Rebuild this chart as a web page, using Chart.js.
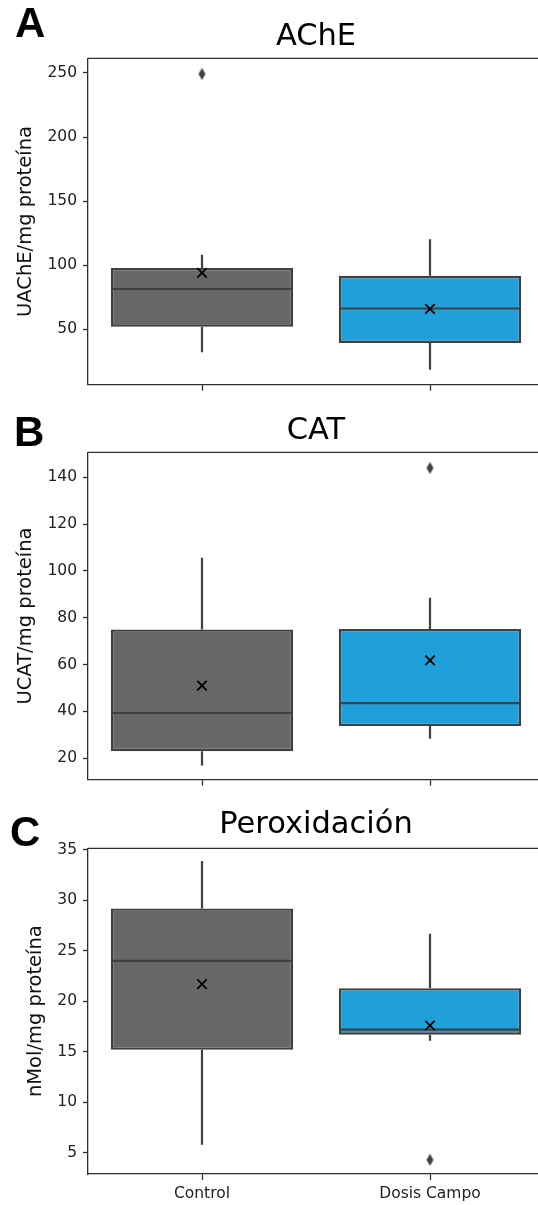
<!DOCTYPE html>
<html>
<head>
<meta charset="utf-8">
<script src="https://cdn.jsdelivr.net/npm/chart.js@4.4.0/dist/chart.umd.min.js"></script>
<style>
  html, body { margin: 0; padding: 0; background: #fff; overflow: hidden; }
  #wrap { position: relative; width: 538px; height: 1205px; overflow: hidden; }
  #wrap canvas { position: absolute; left: 0; }
  .tag { position: absolute; font: bold 42px "Liberation Sans", Arial, sans-serif; line-height: 42px; color: #000; }
</style>
</head>
<body>
<div id="wrap">
  <canvas id="panelA" width="620" height="400" style="top:0px"></canvas>
  <canvas id="panelB" width="620" height="400" style="top:395px"></canvas>
  <canvas id="panelC" width="620" height="415" style="top:790px"></canvas>
  <div class="tag" style="left:15px;top:1.5px">A</div>
  <div class="tag" style="left:14px;top:411px">B</div>
  <div class="tag" style="left:10px;top:811px">C</div>
</div>
<script>
// Groups on the x axis
const groups = ['Control', 'Dosis Campo'];

// AChE (UAChE/mg proteína)
const acheLow = [32.2, 18.5];
const acheQ1 = [52.1, 39.4];
const acheMedian = [81.5, 66.3];
const acheQ3 = [97.8, 91.8];
const acheHigh = [108.3, 120.4];
const acheMean = [94.1, 66.0];
const acheOutliers = [249.2, null];
const acheTicks = [50, 100, 150, 200, 250];

// CAT (UCAT/mg proteína)
const catLow = [16.9, 28.3];
const catQ1 = [23.0, 33.7];
const catMedian = [39.3, 43.5];
const catQ3 = [75.0, 75.2];
const catHigh = [105.6, 88.5];
const catMean = [51.0, 61.8];
const catOutliers = [null, 144.0];
const catTicks = [20, 40, 60, 80, 100, 120, 140];

// Peroxidación (nMol/mg proteína)
const perLow = [5.8, 16.1];
const perQ1 = [15.2, 16.7];
const perMedian = [24.0, 17.2];
const perQ3 = [29.2, 21.3];
const perHigh = [33.9, 26.7];
const perMean = [21.7, 17.6];
const perOutliers = [null, 4.3];
const perTicks = [5, 10, 15, 20, 25, 30, 35];

const boxFill = ['#676767', '#20a0db'];
const edge = '#404040';
const spine = '#2e2e2e';
const font = 'DejaVu Sans';

// thin diamond used for outlier points
function thinDiamond() {
  const c = document.createElement('canvas');
  c.width = 9; c.height = 13;
  const g = c.getContext('2d');
  g.fillStyle = edge;
  g.beginPath();
  g.moveTo(4.5, 0.5); g.lineTo(8, 6.5); g.lineTo(4.5, 12.5); g.lineTo(1, 6.5);
  g.closePath(); g.fill();
  return c;
}
const diamond = thinDiamond();

// whiskers and median line, drawn right after the boxes
const boxDetails = {
  id: 'boxDetails',
  afterDatasetDraw(chart, args, opts) {
    if (args.index !== 0) return;
    const ctx = chart.ctx, y = chart.scales.y;
    ctx.save();
    ctx.strokeStyle = edge;
    ctx.lineWidth = 2.2;
    args.meta.data.forEach((bar, i) => {
      const x = bar.x, half = bar.width / 2;
      const pQ1 = y.getPixelForValue(opts.q1[i]);
      const pQ3 = y.getPixelForValue(opts.q3[i]);
      const pLo = y.getPixelForValue(opts.low[i]);
      const pHi = y.getPixelForValue(opts.high[i]);
      const pMed = y.getPixelForValue(opts.median[i]);
      ctx.beginPath();
      ctx.moveTo(x, pQ3); ctx.lineTo(x, pHi);
      ctx.moveTo(x, pQ1); ctx.lineTo(x, pLo);
      ctx.moveTo(x - half + 1, pMed); ctx.lineTo(x + half - 1, pMed);
      ctx.stroke();
    });
    ctx.restore();
  }
};

// top frame line of the plot area
const topSpine = {
  id: 'topSpine',
  afterDraw(chart) {
    const {ctx, chartArea: a} = chart;
    ctx.save();
    ctx.strokeStyle = spine;
    ctx.lineWidth = 1.3;
    ctx.beginPath();
    ctx.moveTo(a.left, a.top);
    ctx.lineTo(a.right, a.top);
    ctx.stroke();
    ctx.restore();
  }
};

function makePanel(id, p) {
  new Chart(document.getElementById(id), {
    type: 'bar',
    data: {
      labels: groups,
      datasets: [
        {
          type: 'bar',
          data: groups.map((_, i) => [p.q1[i], p.q3[i]]),
          backgroundColor: boxFill,
          borderColor: edge,
          borderWidth: 2.4,
          borderSkipped: false,
          barPercentage: 0.8,
          categoryPercentage: 1.0,
          order: 3
        },
        {
          type: 'line',
          data: p.outliers,
          showLine: false,
          pointStyle: diamond,
          pointRadius: 6,
          order: 2
        },
        {
          type: 'line',
          data: p.mean,
          showLine: false,
          pointStyle: 'crossRot',
          pointRadius: 6.6,
          pointBorderWidth: 1.8,
          pointBorderColor: '#000',
          pointBackgroundColor: '#000',
          order: 1
        }
      ]
    },
    options: {
      responsive: false,
      animation: false,
      devicePixelRatio: 1,
      layout: { padding: { left: 0, right: 76, top: 0, bottom: 0 } },
      plugins: {
        legend: { display: false },
        tooltip: { enabled: false },
        title: {
          display: true,
          text: p.title,
          fullSize: false,
          color: '#000',
          font: { family: font, size: 30.5, weight: 'normal' },
          padding: { top: p.titleTop, bottom: p.titleBottom }
        },
        boxDetails: { q1: p.q1, q3: p.q3, low: p.low, high: p.high, median: p.median }
      },
      scales: {
        x: {
          offset: true,
          afterFit: s => { s.height = p.xHeight; },
          grid: { display: true, drawOnChartArea: false, drawTicks: true, tickLength: 6, offset: false, tickColor: spine, tickWidth: 1.3 },
          border: { display: true, color: spine, width: 1.3 },
          ticks: { display: p.showX, color: '#222', padding: 5, font: { family: font, size: 15.5 } }
        },
        y: {
          min: p.min,
          max: p.max,
          afterFit: s => { s.width = 88; },
          afterBuildTicks: s => { s.ticks = p.ticks.map(v => ({ value: v })); },
          grid: { display: true, drawOnChartArea: false, drawTicks: true, tickLength: 5, tickColor: spine, tickWidth: 1.3 },
          border: { display: true, color: spine, width: 1.3 },
          ticks: { color: '#222', padding: 6, font: { family: font, size: 15.5 } },
          title: {
            display: true,
            text: p.yLabel,
            color: '#111',
            font: { family: font, size: 19.5 },
            padding: { top: p.yTitlePad, bottom: 0 }
          }
        }
      }
    },
    plugins: [boxDetails, topSpine]
  });
}

makePanel('panelA', {
  title: 'AChE', yLabel: 'UAChE/mg proteína',
  low: acheLow, q1: acheQ1, median: acheMedian, q3: acheQ3, high: acheHigh,
  mean: acheMean, outliers: acheOutliers, ticks: acheTicks,
  min: 6.9, max: 261.4,
  titleTop: 19, titleBottom: 2.7, xHeight: 13.3, showX: false, yTitlePad: 14.3
});
makePanel('panelB', {
  title: 'CAT', yLabel: 'UCAT/mg proteína',
  low: catLow, q1: catQ1, median: catMedian, q3: catQ3, high: catHigh,
  mean: catMean, outliers: catOutliers, ticks: catTicks,
  min: 10.8, max: 150.7,
  titleTop: 18, titleBottom: 2.7, xHeight: 15, showX: false, yTitlePad: 14.3
});
makePanel('panelC', {
  title: 'Peroxidación', yLabel: 'nMol/mg proteína',
  low: perLow, q1: perQ1, median: perMedian, q3: perQ3, high: perHigh,
  mean: perMean, outliers: perOutliers, ticks: perTicks,
  min: 2.9, max: 35.15,
  titleTop: 17, titleBottom: 4.7, xHeight: 31, showX: true, yTitlePad: 24.6
});
</script>
</body>
</html>
